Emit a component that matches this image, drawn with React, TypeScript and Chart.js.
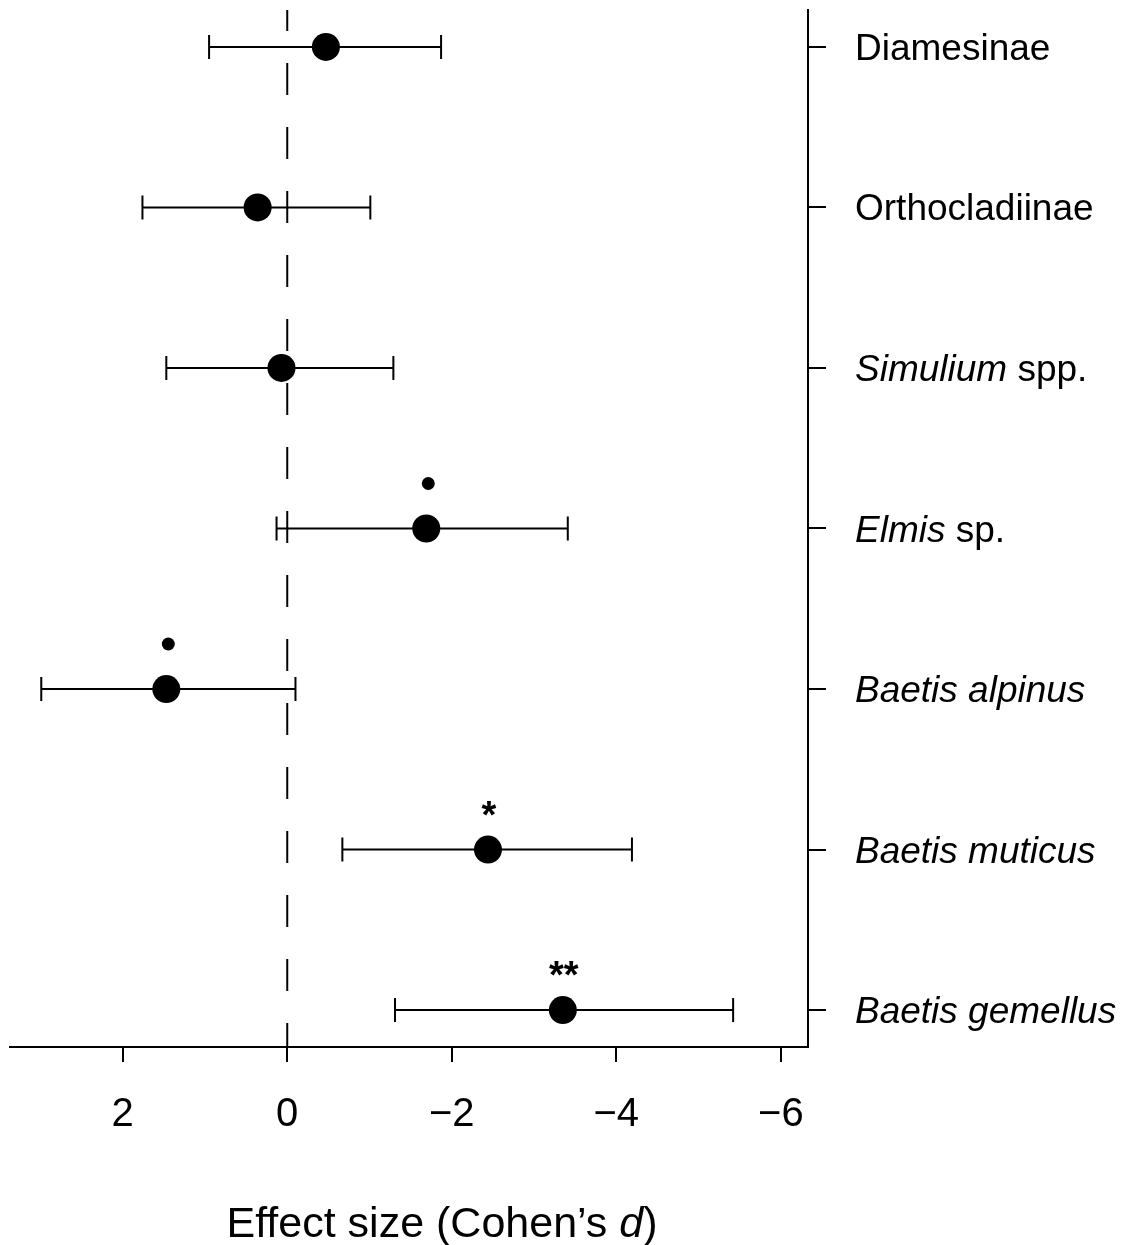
import React, { useEffect, useRef } from 'react';
import { Chart, registerables } from 'chart.js';

Chart.register(...registerables);

// ---- Data ----
const categories = [
  'Diamesinae',
  'Orthocladiinae',
  'Simulium spp.',
  'Elmis sp.',
  'Baetis alpinus',
  'Baetis muticus',
  'Baetis gemellus',
];
const italicParts = ['', '', 'Simulium', 'Elmis', 'Baetis alpinus', 'Baetis muticus', 'Baetis gemellus'];
const effectSize = [-0.47, 0.36, 0.07, -1.69, 1.47, -2.44, -3.35];
const ciLow = [-1.87, -1.01, -1.29, -3.41, -0.1, -4.19, -5.42];
const ciHigh = [0.95, 1.76, 1.47, 0.13, 2.99, -0.67, -1.31];
const significance = ['', '', '', '•', '•', '*', '**'];
const xTickValues = [2, 0, -2, -4, -6];
const xMin = -6.33;
const xMax = 3.37;
const xTitle = 'Effect size (Cohen’s ';
const xTitleItalic = 'd';
const xTitleEnd = ')';

const FONT = '"Liberation Sans", Arial, Helvetica, sans-serif';

const zeroPadding = (scale: any) => {
  scale.paddingLeft = 0;
  scale.paddingRight = 0;
  scale.paddingTop = 0;
  scale.paddingBottom = 0;
};

const forestPlugin = {
  id: 'forest',
  beforeDatasetsDraw(chart: any) {
    const { ctx, chartArea, scales } = chart;
    const x = scales.x;
    const y = scales.y;
    ctx.save();
    ctx.strokeStyle = '#000';
    ctx.lineWidth = 2;
    const x0 = x.getPixelForValue(0);
    ctx.setLineDash([32, 32]);
    ctx.lineDashOffset = 11;
    ctx.beginPath();
    ctx.moveTo(x0, chartArea.top);
    ctx.lineTo(x0, chartArea.bottom);
    ctx.stroke();
    ctx.setLineDash([]);
    categories.forEach((_, i) => {
      const yy = y.getPixelForValue(i + 1);
      const a = x.getPixelForValue(ciLow[i]);
      const b = x.getPixelForValue(ciHigh[i]);
      ctx.beginPath();
      ctx.moveTo(a, yy);
      ctx.lineTo(b, yy);
      ctx.moveTo(a, yy - 12);
      ctx.lineTo(a, yy + 12);
      ctx.moveTo(b, yy - 12);
      ctx.lineTo(b, yy + 12);
      ctx.stroke();
    });
    ctx.restore();
  },
  afterDatasetsDraw(chart: any) {
    const { ctx, scales } = chart;
    const x = scales.x;
    const y = scales.y;
    ctx.save();
    ctx.fillStyle = '#000';
    significance.forEach((s, i) => {
      if (!s) return;
      const px = x.getPixelForValue(effectSize[i]);
      const py = y.getPixelForValue(i + 1);
      if (s === '•') {
        ctx.beginPath();
        ctx.arc(px + 2, py - 45, 6.5, 0, Math.PI * 2);
        ctx.fill();
      } else {
        ctx.font = `bold 38px ${FONT}`;
        ctx.textAlign = 'center';
        ctx.textBaseline = 'alphabetic';
        ctx.fillText(s, px + 1, py - 22);
      }
    });
    ctx.restore();
  },
  afterDraw(chart: any) {
    const { ctx, chartArea, scales } = chart;
    const y = scales.y;
    ctx.save();
    ctx.fillStyle = '#000';
    ctx.textBaseline = 'alphabetic';
    ctx.textAlign = 'left';
    categories.forEach((label, i) => {
      const py = y.getPixelForValue(i + 1) + 13;
      let px = chartArea.right + 47;
      const it = italicParts[i];
      if (it) {
        ctx.font = `italic 37px ${FONT}`;
        ctx.fillText(it, px, py);
        px += ctx.measureText(it).width;
      }
      const rest = label.slice(it.length);
      if (rest) {
        ctx.font = `37px ${FONT}`;
        ctx.fillText(rest, px, py);
      }
    });
    const size = 43;
    ctx.font = `${size}px ${FONT}`;
    const w1 = ctx.measureText(xTitle).width;
    const w3 = ctx.measureText(xTitleEnd).width;
    ctx.font = `italic ${size}px ${FONT}`;
    const w2 = ctx.measureText(xTitleItalic).width;
    const total = w1 + w2 + w3;
    const cx = (chartArea.left + chartArea.right) / 2 + 33;
    let tx = cx - total / 2;
    const ty = chartArea.bottom + 190;
    ctx.font = `${size}px ${FONT}`;
    ctx.fillText(xTitle, tx, ty);
    tx += w1;
    ctx.font = `italic ${size}px ${FONT}`;
    ctx.fillText(xTitleItalic, tx, ty);
    tx += w2;
    ctx.font = `${size}px ${FONT}`;
    ctx.fillText(xTitleEnd, tx, ty);
    ctx.restore();
  },
};

export default function App() {
  const canvasRef = useRef<HTMLCanvasElement | null>(null);

  useEffect(() => {
    if (!canvasRef.current) return;
    const chart = new Chart(canvasRef.current, {
      type: 'scatter',
      data: {
        datasets: [
          {
            data: effectSize.map((v, i) => ({ x: v, y: i + 1 })),
            backgroundColor: '#000',
            borderColor: '#000',
            borderWidth: 0,
            pointRadius: 14,
            pointHoverRadius: 14,
            clip: false as any,
          },
        ],
      },
      options: {
        responsive: false,
        animation: false,
        events: [],
        layout: { autoPadding: false, padding: { left: 10, top: 10, right: 0, bottom: 0 } },
        plugins: {
          legend: { display: false },
          tooltip: { enabled: false },
        },
        scales: {
          x: {
            type: 'linear',
            position: 'bottom',
            reverse: true,
            min: xMin,
            max: xMax,
            afterBuildTicks: (scale: any) => {
              scale.ticks = xTickValues.map((v) => ({ value: v }));
            },
            afterFit: (scale: any) => {
              scale.height = 198;
              zeroPadding(scale);
            },
            grid: {
              drawOnChartArea: false,
              drawTicks: true,
              tickLength: 15,
              color: '#000',
              lineWidth: 2,
            },
            border: { display: true, color: '#000', width: 2 },
            ticks: {
              color: '#000',
              padding: 29,
              font: { family: FONT, size: 40 },
              callback: (v: any) => (v < 0 ? '−' + Math.abs(v) : String(v)),
            },
          },
          y: {
            type: 'linear',
            position: 'right',
            reverse: true,
            min: 0.77,
            max: 7.23,
            afterBuildTicks: (scale: any) => {
              scale.ticks = categories.map((_, i) => ({ value: i + 1 }));
            },
            afterFit: (scale: any) => {
              scale.width = 320;
              zeroPadding(scale);
            },
            grid: {
              drawOnChartArea: false,
              drawTicks: true,
              tickLength: 18,
              color: '#000',
              lineWidth: 2,
            },
            border: { display: true, color: '#000', width: 2 },
            ticks: { display: false },
          },
        },
      },
      plugins: [forestPlugin],
    } as any);
    return () => chart.destroy();
  }, []);

  return (
    <div style={{ position: 'absolute', left: 0, top: 0, width: 1128, height: 1245, background: '#fff' }}>
      <canvas ref={canvasRef} width={1128} height={1245} />
    </div>
  );
}
